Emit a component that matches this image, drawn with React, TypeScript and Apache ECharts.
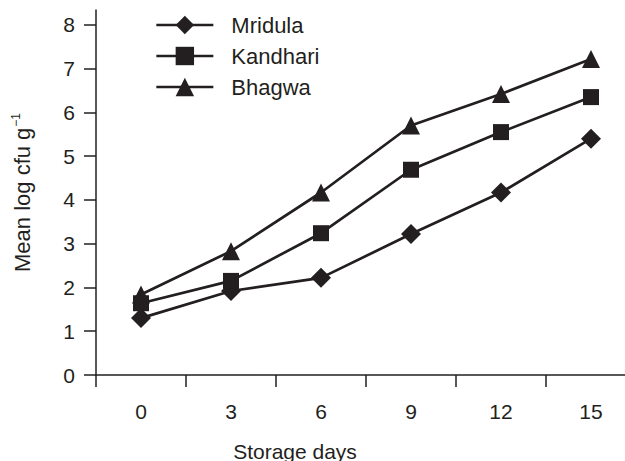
import React, { useEffect, useRef } from "react";
import * as echarts from "echarts";

const categories = ["0", "3", "6", "9", "12", "15"];
const mridula = [1.3, 1.92, 2.22, 3.22, 4.17, 5.4];
const kandhari = [1.64, 2.15, 3.24, 4.69, 5.55, 6.35];
const bhagwa = [1.84, 2.83, 4.17, 5.7, 6.42, 7.22];
const yTicks = [0, 1, 2, 3, 4, 5, 6, 7, 8];

const INK = "#231f20";
const FONT = "'Liberation Sans', Arial, Helvetica, sans-serif";

export default function App() {
  const ref = useRef<HTMLDivElement>(null);
  useEffect(() => {
    if (!ref.current) return;
    const chart = echarts.init(ref.current, undefined, { renderer: "svg" });
    const mk = (name: string, data: number[], symbol: string, size: number) => ({
      name,
      type: "line",
      data,
      symbol,
      symbolSize: size,
      lineStyle: { color: INK, width: 2.7 },
      itemStyle: { color: INK },
    });
    chart.setOption({
      animation: false,
      textStyle: { fontFamily: FONT, color: INK },
      grid: { left: 96, top: 10, bottom: 86, right: -11, containLabel: false, outerBoundsMode: "none" },
      legend: {
        orient: "vertical",
        left: 150,
        top: 9,
        itemWidth: 57,
        itemHeight: 23,
        itemGap: 9,
        lineStyle: { width: 2.7, color: INK },
        textStyle: { fontSize: 22, color: INK, fontFamily: FONT, padding: [0, 0, 0, 13] },
        data: ["Mridula", "Kandhari", "Bhagwa"],
      },
      xAxis: {
        type: "category",
        data: categories,
        boundaryGap: true,
        axisLine: { lineStyle: { color: INK, width: 1.5 } },
        axisTick: { show: true, length: 12, alignWithLabel: false, lineStyle: { color: INK, width: 1.5 } },
        axisLabel: { fontSize: 21, color: INK, margin: 26, fontFamily: FONT },
        splitLine: { show: false },
      },
      yAxis: {
        type: "value",
        min: 0,
        max: 8.34,
        interval: 1,
        axisLine: { show: true, lineStyle: { color: INK, width: 1.5 } },
        axisTick: { show: true, length: 12, customValues: yTicks, lineStyle: { color: INK, width: 1.5 } },
        axisLabel: { fontSize: 21, color: INK, margin: 21, customValues: yTicks, fontFamily: FONT },
        splitLine: { show: false },
        name: "{a|Mean log cfu g}{b|−1}",
        nameLocation: "middle",
        nameGap: 62,
        nameRotate: 90,
        nameTextStyle: {
          rich: {
            a: { fontSize: 22, color: INK, fontFamily: FONT },
            b: { fontSize: 12, color: INK, fontFamily: FONT, padding: [0, 0, 12, 1] },
          },
        },
      },
      graphic: [
        {
          type: "text",
          x: 295,
          y: 451,
          style: {
            text: "Storage days",
            fontSize: 21,
            fontFamily: FONT,
            fill: INK,
            textAlign: "center",
            textVerticalAlign: "middle",
          },
        },
      ],
      series: [
        mk("Mridula", mridula, "diamond", 20),
        mk("Kandhari", kandhari, "rect", 16),
        mk("Bhagwa", bhagwa, "triangle", 18),
      ],
    });
    return () => chart.dispose();
  }, []);
  return (
    <div
      ref={ref}
      style={{ position: "fixed", left: 0, top: 0, width: 625, height: 461, background: "#fff" }}
    />
  );
}
